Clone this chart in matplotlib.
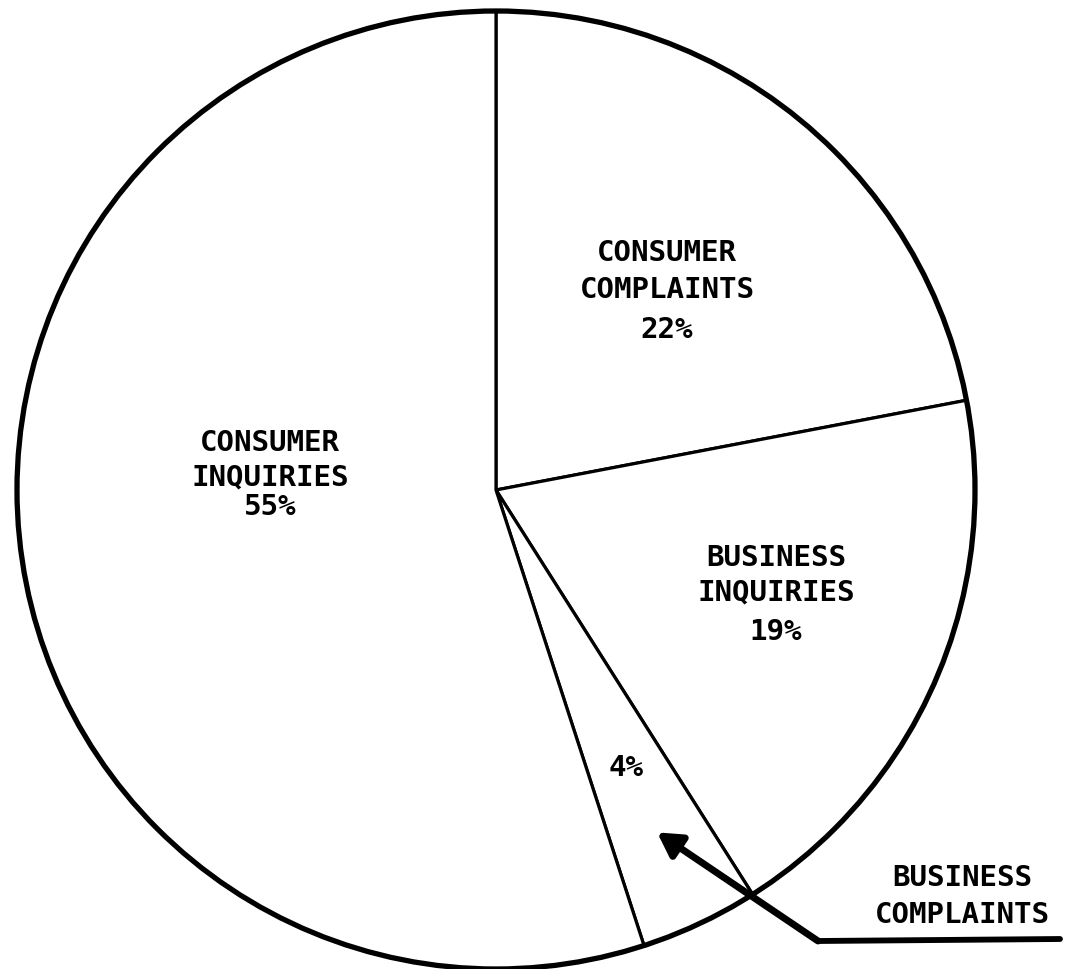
import numpy as np
import matplotlib.pyplot as plt
from matplotlib.patches import Circle

# share of calls (labelled percentages), clockwise from the top
labels = ['CONSUMER\nCOMPLAINTS', 'BUSINESS\nINQUIRIES', 'BUSINESS\nCOMPLAINTS', 'CONSUMER\nINQUIRIES']
shares = [22, 19, 4, 55]

W, H = 1068, 970
fig = plt.figure(figsize=(W / 100, H / 100), dpi=100)
ax = fig.add_axes([0, 0, 1, 1])

cx, cy, r = 496, H - 491, 479

wedges, _ = ax.pie(shares, center=(cx, cy), radius=r, startangle=90, counterclock=False,
                   colors=['white'] * 4, frame=True,
                   wedgeprops=dict(edgecolor='black', linewidth=2.3))
ax.set_xlim(0, W)
ax.set_ylim(0, H)
ax.set_aspect('equal')
ax.axis('off')
ax.add_patch(Circle((cx, cy), r, fill=False, edgecolor='black', linewidth=3.8))

font = dict(family='DejaVu Sans Mono', fontweight='bold', fontsize=21,
            ha='center', va='center', color='black')

def lines(x, ys, texts):
    for y, t in zip(ys, texts):
        ax.text(x, H - y, t, **font)

lines(667, [253, 290, 330], ['CONSUMER', 'COMPLAINTS', f'{shares[0]}%'])
lines(776, [558, 592, 632], ['BUSINESS', 'INQUIRIES', f'{shares[1]}%'])
lines(270, [443, 477, 507], ['CONSUMER', 'INQUIRIES', f'{shares[3]}%'])
lines(962, [878, 915], ['BUSINESS', 'COMPLAINTS'])

# small slice: label and pointer go to the middle of its wedge
small = wedges[2]
mid = np.deg2rad((small.theta1 + small.theta2) / 2)
ax.text(cx + 0.64 * r * np.cos(mid), cy + 0.64 * r * np.sin(mid), f'{shares[2]}%', **font)
tip = (cx + 0.79 * r * np.cos(mid), cy + 0.79 * r * np.sin(mid))

ax.plot([818, 1060], [H - 942, H - 940], color='black', linewidth=4.2, solid_capstyle='round')
ax.annotate('', xy=tip, xytext=(818, H - 942),
            arrowprops=dict(arrowstyle='-|>,head_length=1.4,head_width=0.8',
                            color='black', linewidth=5, shrinkA=0, shrinkB=0))

fig.savefig('out.png', dpi=100, facecolor='white')
